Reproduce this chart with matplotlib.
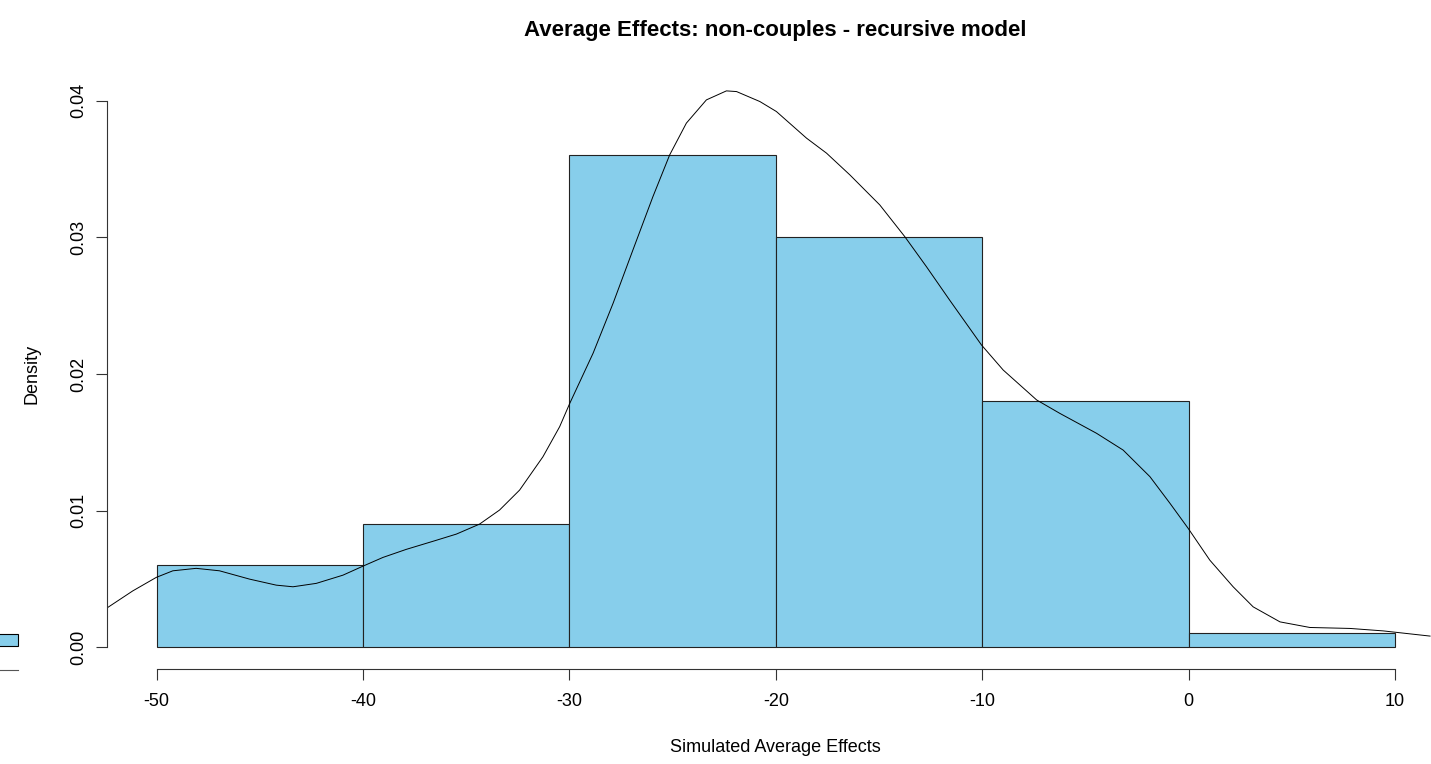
import matplotlib.pyplot as plt
from matplotlib.patches import Patch
from matplotlib.lines import Line2D

plt.rcParams['font.family'] = ['Liberation Sans', 'DejaVu Sans']

# histogram (density scale)
breaks = [-50, -40, -30, -20, -10, 0, 10]
density = [0.006, 0.009, 0.036, 0.030, 0.018, 0.001]

# kernel density curve
kde_x = [-52.36, -51.15, -50.01, -49.21, -48.08, -46.95, -45.49, -44.20, -43.39,
         -42.26, -40.97, -40.00, -39.03, -37.90, -36.50, -35.47, -34.35, -33.38,
         -32.41, -31.28, -30.47, -29.98, -28.85, -27.88, -26.92, -25.95, -25.14,
         -24.33, -23.36, -22.39, -21.90, -20.77, -19.97, -18.51, -17.54, -16.41,
         -14.96, -13.75, -12.70, -11.57, -10.03, -8.98, -7.36, -6.24, -4.46,
         -3.17, -1.87, -0.90, -0.02, 1.03, 2.16, 3.13, 4.43, 5.88, 7.82, 9.43, 11.70]
kde_y = [0.00291, 0.00412, 0.00511, 0.00559, 0.00577, 0.00559, 0.00498, 0.00454, 0.00442,
         0.00467, 0.00527, 0.00593, 0.00657, 0.00716, 0.00780, 0.00828, 0.00901, 0.01004,
         0.01150, 0.01394, 0.01614, 0.01785, 0.02152, 0.02518, 0.02908, 0.03299, 0.03604,
         0.03837, 0.04007, 0.04073, 0.04068, 0.03995, 0.03922, 0.03727, 0.03617, 0.03458,
         0.03238, 0.03006, 0.02786, 0.02540, 0.02212, 0.02029, 0.01810, 0.01712, 0.01566,
         0.01443, 0.01248, 0.01053, 0.00870, 0.00637, 0.00442, 0.00295, 0.00185, 0.00144,
         0.00137, 0.00119, 0.00081]

xticks = [-50, -40, -30, -20, -10, 0, 10]
yticks = [0.00, 0.01, 0.02, 0.03, 0.04]

W, H = 1431, 764
fig = plt.figure(figsize=(W / 100, H / 100), dpi=100)
# plot region like R: goes slightly beyond the right edge of the image
ax = fig.add_axes([107 / W, 1 - 669 / H, 1337.5 / W, 590 / H])

lefts = breaks[:-1]
widths = [b - a for a, b in zip(breaks[:-1], breaks[1:])]
ax.bar(lefts, density, width=widths, align='edge', color='skyblue',
       edgecolor='#222222', linewidth=0.8)
ax.plot(kde_x, kde_y, color='black', linewidth=0.7)

ax.set_xlim(-52.4, 12.4)
ax.set_ylim(-0.0016, 0.0416)

for s in ['top', 'right']:
    ax.spines[s].set_visible(False)
ax.spines['left'].set_bounds(0, 0.04)
ax.spines['bottom'].set_bounds(-50, 10)
for s in ['left', 'bottom']:
    ax.spines[s].set_linewidth(0.8)
    ax.spines[s].set_color('#333333')

ax.set_xticks(xticks)
ax.set_xticklabels([str(t) for t in xticks])
ax.set_yticks(yticks)
ax.set_yticklabels(['%.2f' % t for t in yticks], rotation=90, va='center')
ax.tick_params(axis='both', direction='out', length=8, width=0.8,
               color='#333333', labelsize=13)
ax.tick_params(axis='x', pad=9)
ax.tick_params(axis='y', pad=6)

ax.set_title('Average Effects: non-couples - recursive model',
             fontsize=16, fontweight='bold', pad=31)
ax.set_xlabel('Simulated Average Effects', fontsize=13, va='center')
ax.xaxis.set_label_coords(0.5, -78 / 590)
ax.set_ylabel('Density', fontsize=13, va='center')
ax.yaxis.set_label_coords(-75 / 1337.5, 0.5)

# legend sits outside the plot on the left, mostly cut off
handles = [Patch(facecolor='skyblue', edgecolor='black', linewidth=0.8),
           Line2D([0], [0], color='#555555', linewidth=0.8)]
fig.legend(handles, ['', ''], loc='upper right',
           bbox_to_anchor=(18 / W, 1 - 634 / H), frameon=False,
           borderpad=0, handletextpad=0, handlelength=3,
           labelspacing=0.9, fontsize=12, borderaxespad=0)

fig.savefig('out.png', dpi=100)
